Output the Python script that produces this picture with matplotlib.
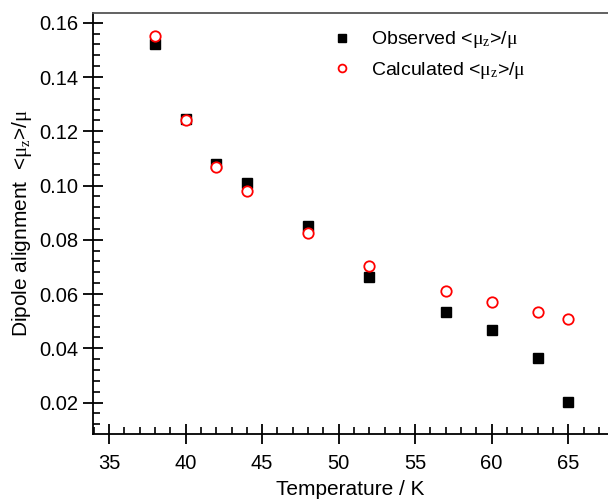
import matplotlib
matplotlib.use("Agg")
import matplotlib.pyplot as plt
from matplotlib.ticker import MultipleLocator

plt.rcParams['font.family'] = ['Liberation Sans', 'DejaVu Sans']
plt.rcParams['mathtext.fontset'] = 'custom'
plt.rcParams['mathtext.rm'] = 'Liberation Serif'
plt.rcParams['mathtext.it'] = 'Liberation Serif'

temperature = [38, 40, 42, 44, 48, 52, 57, 60, 63, 65]
observed = [0.152, 0.1245, 0.108, 0.101, 0.085, 0.0662, 0.0535, 0.0466, 0.0366, 0.0203]
calculated = [0.155, 0.124, 0.107, 0.098, 0.0826, 0.0703, 0.0612, 0.0570, 0.0532, 0.0508]

fig = plt.figure(figsize=(6.08, 5.03), dpi=100)
ax = fig.add_axes([93/608, 1-434/503, 1-93/608, (434-13)/503])

ax.plot(temperature, observed, linestyle='none', marker='s', ms=7.2,
        color='black', label=r'Observed <$\mathrm{\mu_z}$>/$\mathrm{\mu}$')
ax.plot(temperature, calculated, linestyle='none', marker='o', ms=7.5,
        mfc='white', mec='red', mew=1.3, label=r'Calculated <$\mathrm{\mu_z}$>/$\mathrm{\mu}$')

ax.set_xlim(33.95, 67.6)
ax.set_ylim(0.0084, 0.1636)
ax.xaxis.set_major_locator(MultipleLocator(5))
ax.xaxis.set_minor_locator(MultipleLocator(1))
ax.yaxis.set_major_locator(MultipleLocator(0.02))
ax.yaxis.set_minor_locator(MultipleLocator(0.004))
ax.yaxis.set_major_formatter(matplotlib.ticker.FormatStrFormatter('%.2f'))

ax.tick_params(which='major', direction='inout', length=15, width=1.3, labelsize=14.5)
ax.tick_params(axis='x', which='major', pad=7)
ax.tick_params(axis='y', which='major', pad=3)
ax.tick_params(which='minor', direction='in', length=5, width=1.2)
ax.tick_params(axis='x', which='both', top=False)
ax.tick_params(axis='y', which='both', right=False)
ax.spines['right'].set_visible(False)
for s in ['left', 'bottom', 'top']:
    ax.spines[s].set_linewidth(1.3)
ax.spines['top'].set_color('#555555')

ax.set_xlabel('Temperature / K', fontsize=15, labelpad=5)
ax.set_ylabel(r'Dipole alignment  <$\mathrm{\mu_z}$>/$\mathrm{\mu}$', fontsize=15, labelpad=4)

leg = ax.legend(loc='upper left', bbox_to_anchor=(310/608, 1-12/503), bbox_transform=fig.transFigure,
                frameon=False, fontsize=14, handletextpad=0.75, labelspacing=0.5, handlelength=1.5,
                markerscale=0.75)

fig.savefig('out.png', dpi=100)
